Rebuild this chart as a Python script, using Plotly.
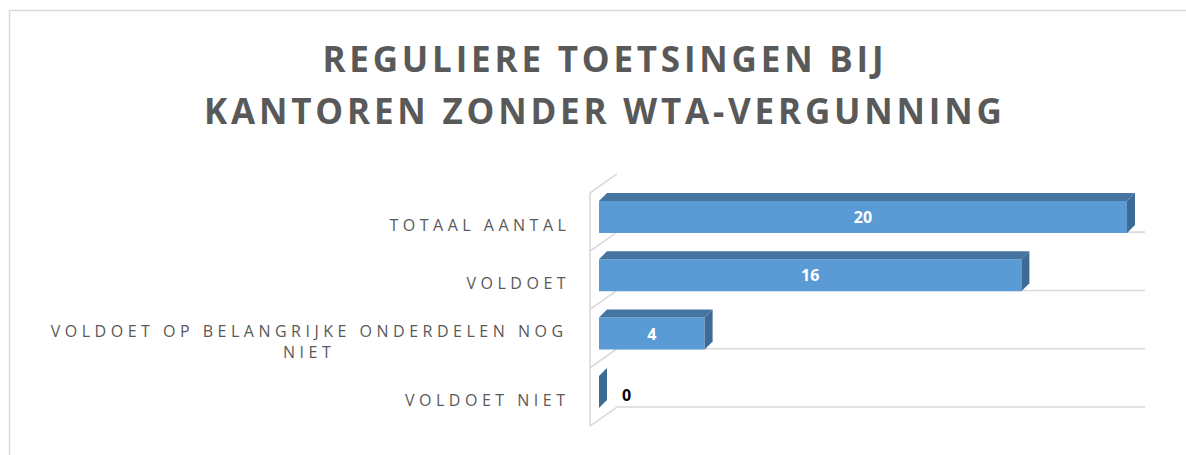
import plotly.graph_objects as go

# ---------------- data ----------------
categories = [
    "TOTAAL AANTAL",
    "VOLDOET",
    "VOLDOET OP BELANGRIJKE ONDERDELEN NOG<br>NIET",
    "VOLDOET NIET",
]
values = [20, 16, 4, 0]
title_lines = ["REGULIERE TOETSINGEN BIJ", "KANTOREN ZONDER WTA-VERGUNNING"]

# ---------------- geometry / style ----------------
W, H = 1186, 455
X0_PX = 599.0        # pixel of value 0 on the bar front plane
PX_PER_VAL = 26.4
Y0_PX = 217.0        # pixel of first category centre (front plane)
PX_PER_CAT = 58.3

def dxv(px):
    return px / PX_PER_VAL

def dyc(px):
    return px / PX_PER_CAT

x_range = [(0 - X0_PX) / PX_PER_VAL, (W - X0_PX) / PX_PER_VAL]
y_range = [(H - Y0_PX) / PX_PER_CAT, (0 - Y0_PX) / PX_PER_CAT]

BAR_W = 32 / PX_PER_CAT
BAR_DX, BAR_DY = dxv(8), dyc(-8)
FRONT = "#5B9BD5"
TOP = "#4674A1"
SIDE = "#3E6B96"
GRID = "#D9D9D9"
TXT = "#595959"
FONT = "Open Sans"

n = len(categories)
idx = list(range(n))
vmax = max(values)

fig = go.Figure()
fig.add_trace(go.Bar(
    x=values, y=idx, orientation="h", width=BAR_W,
    marker=dict(color=FRONT, line=dict(width=0)),
    text=[str(v) if v > 0 else "" for v in values],
    textposition="inside", insidetextanchor="middle",
    textfont=dict(family=FONT, size=16, color="white", weight="bold"),
    hoverinfo="skip", cliponaxis=False,
))

shapes = []
# --- wall / floor lines (3D frame) ---
wall_front_x = dxv(-9)
wall_dx, wall_dy = dxv(27), dyc(-19)
back_shift = dyc(-14)
back_bounds = [k - 0.5 + back_shift for k in range(n + 1)]
front_bounds = [b - wall_dy for b in back_bounds]
line_style = dict(color=GRID, width=1.6)
shapes.append(dict(type="line", xref="x", yref="y", layer="below",
                   x0=wall_front_x, x1=wall_front_x,
                   y0=front_bounds[0], y1=front_bounds[-1], line=line_style))
for k in range(n + 1):
    shapes.append(dict(type="line", xref="x", yref="y", layer="below",
                       x0=wall_front_x, y0=front_bounds[k],
                       x1=wall_front_x + wall_dx, y1=back_bounds[k], line=line_style))
    if k > 0:
        shapes.append(dict(type="line", xref="x", yref="y", layer="below",
                           x0=wall_front_x + wall_dx, y0=back_bounds[k],
                           x1=wall_front_x + wall_dx + vmax, y1=back_bounds[k],
                           line=line_style))

# --- 3D bar faces ---
for i, v in zip(idx, values):
    yt = i - BAR_W / 2
    yb = i + BAR_W / 2
    if v > 0:
        top = (f"M {0} {yt} L {v} {yt} L {v + BAR_DX} {yt + BAR_DY} "
               f"L {BAR_DX} {yt + BAR_DY} Z")
        shapes.append(dict(type="path", xref="x", yref="y", path=top,
                           fillcolor=TOP, line=dict(width=0), layer="above"))
    side = (f"M {v} {yt} L {v} {yb} L {v + BAR_DX} {yb + BAR_DY} "
            f"L {v + BAR_DX} {yt + BAR_DY} Z")
    shapes.append(dict(type="path", xref="x", yref="y", path=side,
                       fillcolor=SIDE, line=dict(width=0), layer="above"))

# --- outer chart border ---
shapes.append(dict(type="rect", xref="paper", yref="paper",
                   x0=9.5 / W, x1=1.05, y0=-0.05, y1=1 - 10.5 / H,
                   line=dict(color=GRID, width=1.5), fillcolor="rgba(0,0,0,0)",
                   layer="below"))

annotations = []
# title lines (index 0, 1)
for t, ypx in zip(title_lines, [59, 110]):
    annotations.append(dict(text=t, xref="paper", yref="paper",
                            x=605 / W, y=1 - ypx / H, xanchor="center", yanchor="middle",
                            align="center", showarrow=False,
                            font=dict(family=FONT, size=35, color=TXT, weight="bold")))
# category labels (index 2..)
label_right_px = 568
for i, c in zip(idx, categories):
    multi = "<br>" in c
    annotations.append(dict(text=c, xref="paper", yref="y",
                            x=(309 if multi else label_right_px + 4) / W,
                            y=i + 0.14,
                            xanchor="center" if multi else "right",
                            yanchor="middle",
                            align="center" if multi else "right",
                            showarrow=False,
                            font=dict(family=FONT, size=16, color=TXT)))
# zero-value data labels
for i, v in zip(idx, values):
    if v == 0:
        annotations.append(dict(text=str(v), xref="x", yref="y", x=v, y=i + 0.05,
                                xanchor="left", yanchor="middle", xshift=21,
                                showarrow=False,
                                font=dict(family=FONT, size=16, color="black",
                                          weight="bold")))

fig.update_layout(
    width=W, height=H, autosize=False,
    margin=dict(l=0, r=0, t=0, b=0),
    paper_bgcolor="white", plot_bgcolor="white",
    showlegend=False,
    xaxis=dict(range=x_range, visible=False, fixedrange=True, domain=[0, 1]),
    yaxis=dict(range=y_range, visible=False, fixedrange=True, domain=[0, 1]),
    shapes=shapes, annotations=annotations,
)

# letter spacing (Excel "expanded" spacing) via CSS; remove default page margin
css = (
    'body{margin:0;}'
    '.annotation[data-index="0"] .annotation-text,'
    '.annotation[data-index="1"] .annotation-text{letter-spacing:3.8px;}'
    '.annotation[data-index="2"] .annotation-text,'
    '.annotation[data-index="3"] .annotation-text,'
    '.annotation[data-index="4"] .annotation-text,'
    '.annotation[data-index="5"] .annotation-text{letter-spacing:4.5px;}'
)
post = ("document.body.style.margin='0';"
        "var s=document.createElement('style');s.textContent='" + css
        + "';document.head.appendChild(s);")

fig.write_html("out.html", post_script=post, config={"displayModeBar": False})
